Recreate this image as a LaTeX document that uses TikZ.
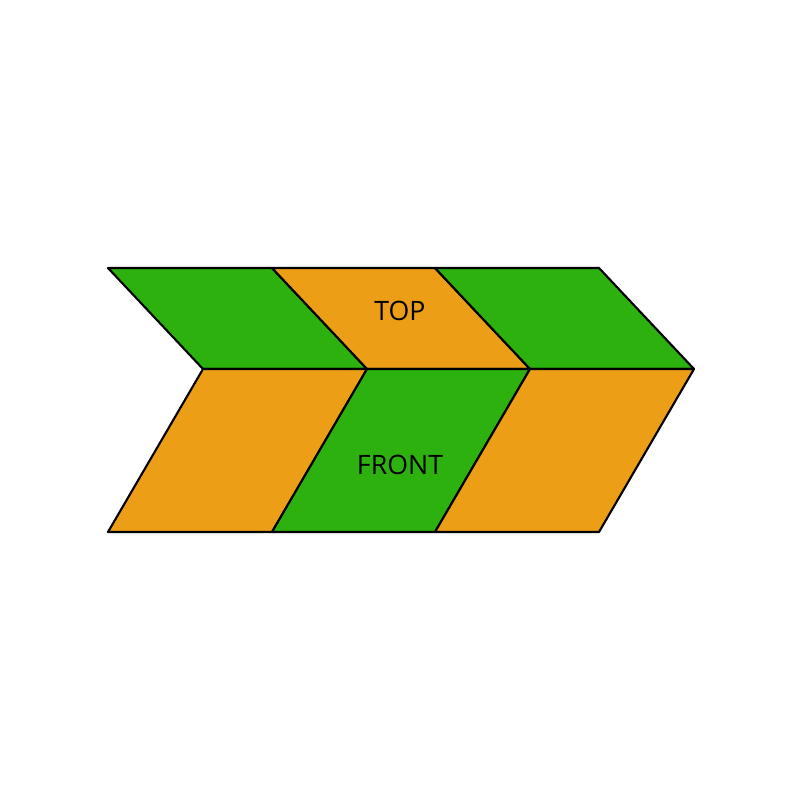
\documentclass[tikz,border=0pt]{standalone}
\usepackage{fontspec}
\setmainfont{Open Sans}
\definecolor{leafc}{RGB}{ 44,177, 14}
\definecolor{ambc}{RGB}{236,158, 22}

\begin{document}
\begin{tikzpicture}[
  x=0.01cm, y=-0.01cm,
  face/.style={draw=black, line width=0.6pt, line join=round},
  gface/.style={face, fill=leafc},
  oface/.style={face, fill=ambc},
  lbl/.style={font=\fontsize{7.6}{9}\selectfont, text=black, inner sep=0pt},
]
\useasboundingbox (0,0) rectangle (800,800);

% ---------------- corner points of the chevron ----------------
\coordinate (t0) at (108,268); \coordinate (t1) at (272,268);
\coordinate (t2) at (435,268); \coordinate (t3) at (599,268);
\coordinate (m0) at (203,369); \coordinate (m1) at (367,369);
\coordinate (m2) at (530,369); \coordinate (m3) at (694,369);
\coordinate (b0) at (108,532); \coordinate (b1) at (272,532);
\coordinate (b2) at (435,532); \coordinate (b3) at (599,532);

% top faces
\draw[gface] (t0)--(t1)--(m1)--(m0)--cycle;
\draw[oface] (t1)--(t2)--(m2)--(m1)--cycle;
\draw[gface] (t2)--(t3)--(m3)--(m2)--cycle;

% front faces
\draw[oface] (m0)--(m1)--(b1)--(b0)--cycle;
\draw[gface] (m1)--(m2)--(b2)--(b1)--cycle;
\draw[oface] (m2)--(m3)--(b3)--(b2)--cycle;

\node[lbl] (top) at (400,311) {TOP};
\node[lbl] (front) at (400,465) {FRONT};
\end{tikzpicture}
\end{document}
